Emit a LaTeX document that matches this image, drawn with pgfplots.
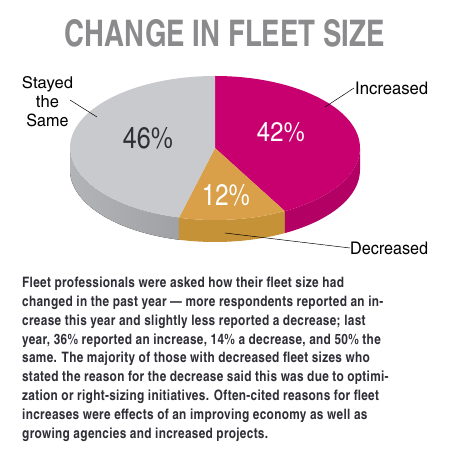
\documentclass[border=0pt]{standalone}
\usepackage{fontspec}
\setmainfont{TeX Gyre Heros}
\newfontfamily\cn{texgyreheroscn}[Extension=.otf, UprightFont=*-regular, BoldFont=*-bold, Ligatures=TeX]
\usepackage{graphicx}
\usepackage{pgfplots}
\usepackage{pgfplotstable}
\pgfplotsset{compat=1.18}
\definecolor{magtop}{HTML}{C8006F}
\definecolor{magside}{HTML}{B30065}
\definecolor{goldtop}{HTML}{D9A049}
\definecolor{goldside}{HTML}{C69238}
\definecolor{graytop}{HTML}{C9CACD}
\definecolor{grayside}{HTML}{A8A9AC}
\definecolor{graysideL}{HTML}{B3B4B7}
\definecolor{graysideR}{HTML}{A0A1A4}
\definecolor{titlegray}{HTML}{8B8B8D}
\definecolor{txt}{HTML}{2E2E36}
\pgfplotstableread{
label value
Increased 42
Decreased 12
Same 46
}\piedata
\begin{document}
\begin{tikzpicture}
\pgfplotstablegetelem{0}{value}\of\piedata \let\vInc\pgfplotsretval
\pgfplotstablegetelem{1}{value}\of\piedata \let\vDec\pgfplotsretval
\pgfplotstablegetelem{2}{value}\of\piedata \let\vSam\pgfplotsretval
\pgfmathsetmacro\aA{90-3.6*\vInc}
\pgfmathsetmacro\aB{\aA-3.6*\vDec}
\pgfmathsetmacro\aC{\aB-3.6*\vSam}
\begin{axis}[width=450bp,height=459bp,scale only axis,
  xmin=0,xmax=450,ymin=0,ymax=459,enlargelimits=false,
  hide axis,clip=false]
\path (axis cs:0,0) rectangle (axis cs:450,459);
% sides
\fill[left color=graysideL,right color=graysideR] (axis cs:70,311) arc[start angle=-180,end angle=\aB,x radius=145bp,y radius=72bp]
   -- ++(0,-22bp) arc[start angle=\aB,end angle=-180,x radius=145bp,y radius=72bp] -- cycle;
\fill[goldside] (axis cs:215,311) ++(\aB:145bp and 72bp) arc[start angle=\aB,end angle=\aA,x radius=145bp,y radius=72bp]
   -- ++(0,-22bp) arc[start angle=\aA,end angle=\aB,x radius=145bp,y radius=72bp] -- cycle;
\fill[magside] (axis cs:215,311) ++(\aA:145bp and 72bp) arc[start angle=\aA,end angle=0,x radius=145bp,y radius=72bp]
   -- ++(0,-22bp) arc[start angle=0,end angle=\aA,x radius=145bp,y radius=72bp] -- cycle;
% tops
\fill[magtop] (axis cs:215,311) -- ++(90:145bp and 72bp) arc[start angle=90,end angle=\aA,x radius=145bp,y radius=72bp] -- cycle;
\fill[goldtop] (axis cs:215,311) -- ++(\aA:145bp and 72bp) arc[start angle=\aA,end angle=\aB,x radius=145bp,y radius=72bp] -- cycle;
\fill[graytop] (axis cs:215,311) -- ++(\aB:145bp and 72bp) arc[start angle=\aB,end angle=\aC,x radius=145bp,y radius=72bp] -- cycle;
% title
\node[anchor=base,inner sep=0,text=titlegray] at (axis cs:225,412) {\resizebox{320bp}{27bp}{\cn\bfseries CHANGE IN FLEET SIZE}};
% percents
\node[anchor=base,inner sep=0,text=txt] at (axis cs:148,310) {\resizebox{50bp}{21bp}{\cn 46\%}};
\node[anchor=base,inner sep=0,text=white] at (axis cs:281,317) {\resizebox{48bp}{19bp}{\cn 42\%}};
\node[anchor=base,inner sep=0,text=white] at (axis cs:226,253) {\resizebox{48bp}{21bp}{\cn 12\%}};
% labels
\node[anchor=base,inner sep=0,text=black] at (axis cs:47.5,370.5) {\resizebox{51bp}{12bp}{\cn Stayed}};
\node[anchor=base,inner sep=0,text=black] at (axis cs:47.5,351.5) {\resizebox{23bp}{12bp}{\cn the}};
\node[anchor=base,inner sep=0,text=black] at (axis cs:47.5,332.5) {\resizebox{42bp}{12.5bp}{\cn Same}};
\node[anchor=base west,inner sep=0,text=black] at (axis cs:355,364) {\resizebox{73bp}{12.5bp}{\cn Increased}};
\node[anchor=base west,inner sep=0,text=black] at (axis cs:350,204) {\resizebox{78bp}{12.5bp}{\cn Decreased}};
\draw[black,line width=0.5bp] (axis cs:70,359) -- (axis cs:97,342);
\draw[black,line width=0.5bp] (axis cs:354,371) -- (axis cs:325,352);
\draw[black,line width=0.5bp] (axis cs:225,226) -- (axis cs:350,211);
% paragraph
\begin{scope}[every node/.style={anchor=base west,inner sep=0,text=txt,font=\cn\bfseries\fontsize{14.4bp}{16bp}\selectfont\addfontfeature{LetterSpace=2.2}}]
\node at (axis cs:22,171.3) {Fleet professionals were asked how their fleet size had};
\node at (axis cs:22,152.5) {changed in the past year — more respondents reported an in-};
\node at (axis cs:22,133.7) {crease this year and slightly less reported a decrease; last};
\node at (axis cs:22,114.8) {year, 36\% reported an increase, 14\% a decrease, and 50\% the};
\node at (axis cs:22,96.0) {same. The majority of those with decreased fleet sizes who};
\node at (axis cs:22,77.2) {stated the reason for the decrease said this was due to optimi-};
\node at (axis cs:22,58.3) {zation or right-sizing initiatives. Often-cited reasons for fleet};
\node at (axis cs:22,39.5) {increases were effects of an improving economy as well as};
\node at (axis cs:22,20.7) {growing agencies and increased projects.};
\end{scope}
\end{axis}
\end{tikzpicture}
\end{document}
